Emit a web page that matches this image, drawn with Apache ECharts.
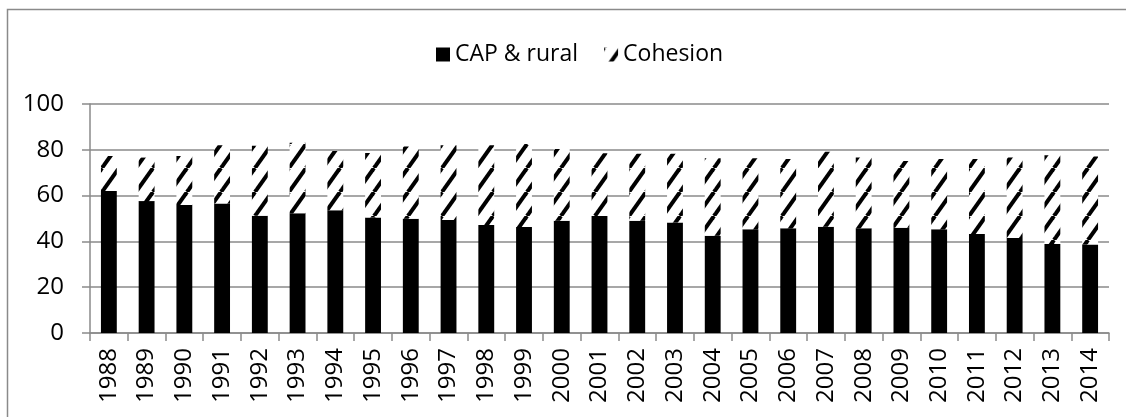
<!DOCTYPE html>
<html>
<head>
<meta charset="utf-8">
<script src="https://cdn.jsdelivr.net/npm/echarts@6/dist/echarts.min.js"></script>
<style>
  html, body { margin: 0; padding: 0; background: #fff; }
  #chart { width: 1126px; height: 417px; }
</style>
</head>
<body>
<div id="chart"></div>
<script>
  var years = ['1988','1989','1990','1991','1992','1993','1994','1995','1996','1997','1998','1999','2000',
               '2001','2002','2003','2004','2005','2006','2007','2008','2009','2010','2011','2012','2013','2014'];
  var capRural = [62.0, 57.6, 55.9, 56.5, 51.2, 52.3, 53.6, 50.4, 49.9, 49.3, 47.2, 46.3, 49.0,
                  51.1, 49.0, 48.2, 42.5, 45.3, 45.7, 46.4, 45.7, 46.0, 45.3, 43.2, 41.5, 38.9, 38.6];
  var cohesion = [15.3, 19.0, 21.4, 25.5, 30.6, 30.8, 25.9, 28.2, 31.5, 32.7, 34.8, 36.2, 31.3,
                  27.4, 29.3, 30.1, 33.8, 31.0, 30.3, 32.8, 30.9, 29.1, 30.7, 32.8, 35.1, 38.7, 38.5];
  var yTicks = [0, 20, 40, 60, 80, 100];

  // hatch tile: thick "/" stripes like the excel pattern fill
  function hatch() {
    var w = 17, h = 24;
    var c = document.createElement('canvas');
    c.width = w; c.height = h;
    var ctx = c.getContext('2d');
    ctx.fillStyle = '#fff';
    ctx.fillRect(0, 0, w, h);
    ctx.strokeStyle = '#000';
    ctx.lineWidth = 4;
    for (var k = -1; k <= 1; k++) {
      ctx.beginPath();
      ctx.moveTo(k * w, h);
      ctx.lineTo((k + 1) * w, 0);
      ctx.stroke();
    }
    return c;
  }

  var font = 'Open Sans';
  var myChart = echarts.init(document.getElementById('chart'));
  myChart.setOption({
    animation: false,
    graphic: [{
      type: 'rect',
      shape: { x: 7.5, y: 9.5, width: 1130, height: 420 },
      style: { fill: 'none', stroke: '#8a8a8a', lineWidth: 1.5 },
      z: -1
    }],
    legend: {
      left: 431,
      top: 38,
      itemWidth: 14,
      itemHeight: 14,
      itemGap: 26,
      textStyle: { fontFamily: font, fontSize: 23, color: '#000' },
      data: [
        { name: 'CAP & rural', icon: 'rect' },
        { name: 'Cohesion', icon: 'rect' }
      ]
    },
    grid: { left: 90, right: 17, top: 104, bottom: 84 },
    xAxis: {
      type: 'category',
      data: years,
      axisLine: { lineStyle: { color: '#8a8a8a', width: 1.5 } },
      axisTick: { show: true, length: 8, lineStyle: { color: '#8a8a8a', width: 1.5 } },
      axisLabel: {
        rotate: 90,
        margin: 15,
        interval: 0,
        fontFamily: font,
        fontSize: 24,
        color: '#000'
      }
    },
    yAxis: {
      type: 'value',
      min: yTicks[0],
      max: yTicks[yTicks.length - 1],
      interval: 20,
      axisLine: { show: true, lineStyle: { color: '#8a8a8a', width: 1.5 } },
      axisTick: { show: true, length: 8, lineStyle: { color: '#8a8a8a', width: 1.5 } },
      splitLine: { lineStyle: { color: '#8a8a8a', width: 1.5 } },
      axisLabel: { margin: 26, fontFamily: font, fontSize: 24, color: '#000' }
    },
    series: [
      {
        name: 'CAP & rural',
        type: 'bar',
        stack: 'x',
        barWidth: '42%',
        data: capRural,
        itemStyle: { color: '#000' }
      },
      {
        name: 'Cohesion',
        type: 'bar',
        stack: 'x',
        barWidth: '42%',
        data: cohesion,
        itemStyle: { color: { image: hatch(), repeat: 'repeat' } }
      }
    ]
  });
</script>
</body>
</html>
